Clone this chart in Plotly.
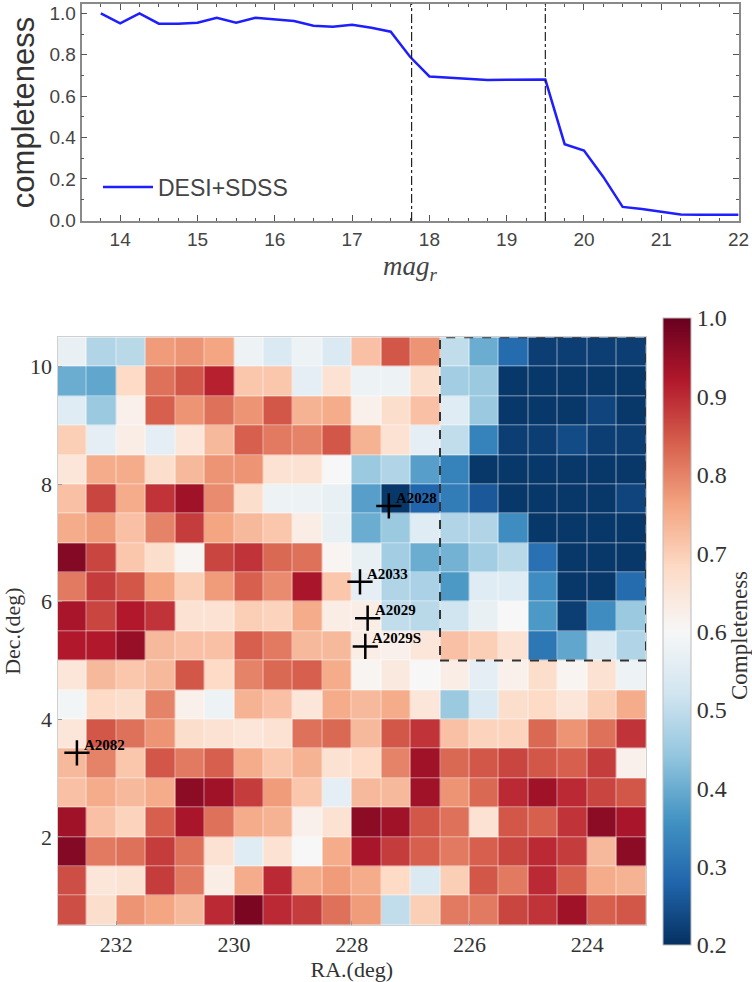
import plotly.graph_objects as go

# ---------------- top panel data ----------------
mag_r = [13.75, 14.0, 14.25, 14.5, 14.75, 15.0, 15.25, 15.5, 15.75, 16.0, 16.25, 16.5,
         16.75, 17.0, 17.25, 17.5, 17.75, 18.0, 18.25, 18.5, 18.75, 19.0, 19.25, 19.5,
         19.75, 20.0, 20.25, 20.5, 20.75, 21.0, 21.25, 21.5, 21.75, 22.0]
completeness = [1.0, 0.952, 1.0, 0.95, 0.95, 0.955, 0.979, 0.955, 0.978, 0.972, 0.963, 0.94,
                0.935, 0.945, 0.93, 0.911, 0.79, 0.695, 0.69, 0.683, 0.678, 0.679, 0.68, 0.68,
                0.368, 0.337, 0.21, 0.065, 0.055, 0.04, 0.028, 0.027, 0.027, 0.027]
mag_cuts = [17.77, 19.5]
mag_ticks = [14, 15, 16, 17, 18, 19, 20, 21, 22]

# ---------------- bottom panel data ----------------
ra_centers = [232.75, 232.25, 231.75, 231.25, 230.75, 230.25, 229.75, 229.25, 228.75, 228.25,
              227.75, 227.25, 226.75, 226.25, 225.75, 225.25, 224.75, 224.25, 223.75, 223.25]
dec_centers = [10.25, 9.75, 9.25, 8.75, 8.25, 7.75, 7.25, 6.75, 6.25, 5.75,
               5.25, 4.75, 4.25, 3.75, 3.25, 2.75, 2.25, 1.75, 1.25, 0.75]
grid = [
    [0.57, 0.48, 0.49, 0.77, 0.78, 0.76, 0.58, 0.54, 0.58, 0.54, 0.72, 0.85, 0.78, 0.50, 0.40, 0.29, 0.22, 0.22, 0.22, 0.22],
    [0.40, 0.39, 0.68, 0.82, 0.85, 0.91, 0.71, 0.71, 0.56, 0.66, 0.58, 0.58, 0.67, 0.46, 0.45, 0.21, 0.21, 0.21, 0.21, 0.21],
    [0.55, 0.45, 0.62, 0.84, 0.78, 0.82, 0.78, 0.85, 0.74, 0.75, 0.62, 0.67, 0.72, 0.55, 0.45, 0.21, 0.21, 0.21, 0.23, 0.21],
    [0.70, 0.56, 0.63, 0.56, 0.65, 0.73, 0.84, 0.81, 0.80, 0.85, 0.74, 0.66, 0.56, 0.50, 0.33, 0.22, 0.22, 0.24, 0.22, 0.22],
    [0.65, 0.75, 0.75, 0.67, 0.73, 0.78, 0.78, 0.66, 0.66, 0.60, 0.45, 0.48, 0.38, 0.33, 0.21, 0.21, 0.21, 0.21, 0.21, 0.21],
    [0.72, 0.87, 0.75, 0.89, 0.94, 0.79, 0.67, 0.58, 0.58, 0.57, 0.38, 0.21, 0.28, 0.32, 0.26, 0.21, 0.21, 0.21, 0.21, 0.23],
    [0.75, 0.77, 0.72, 0.80, 0.88, 0.76, 0.73, 0.71, 0.63, 0.57, 0.40, 0.45, 0.55, 0.48, 0.48, 0.35, 0.21, 0.21, 0.21, 0.21],
    [0.97, 0.87, 0.71, 0.67, 0.61, 0.87, 0.89, 0.83, 0.82, 0.61, 0.57, 0.46, 0.40, 0.41, 0.46, 0.49, 0.30, 0.21, 0.21, 0.21],
    [0.81, 0.88, 0.85, 0.76, 0.70, 0.77, 0.84, 0.79, 0.93, 0.71, 0.56, 0.48, 0.47, 0.37, 0.55, 0.55, 0.35, 0.21, 0.21, 0.29],
    [0.93, 0.87, 0.92, 0.89, 0.66, 0.66, 0.70, 0.69, 0.75, 0.63, 0.63, 0.50, 0.49, 0.52, 0.57, 0.60, 0.37, 0.22, 0.35, 0.45],
    [0.92, 0.92, 0.95, 0.73, 0.72, 0.72, 0.84, 0.81, 0.73, 0.73, 0.63, 0.62, 0.65, 0.72, 0.70, 0.66, 0.31, 0.39, 0.54, 0.48],
    [0.65, 0.73, 0.71, 0.73, 0.85, 0.68, 0.80, 0.83, 0.84, 0.75, 0.61, 0.64, 0.60, 0.63, 0.56, 0.62, 0.67, 0.61, 0.66, 0.58],
    [0.59, 0.68, 0.67, 0.80, 0.62, 0.58, 0.74, 0.72, 0.65, 0.75, 0.73, 0.75, 0.65, 0.45, 0.54, 0.67, 0.68, 0.65, 0.70, 0.75],
    [0.65, 0.85, 0.82, 0.78, 0.67, 0.66, 0.65, 0.66, 0.82, 0.83, 0.73, 0.85, 0.89, 0.72, 0.69, 0.69, 0.83, 0.78, 0.82, 0.89],
    [0.73, 0.80, 0.71, 0.85, 0.81, 0.84, 0.75, 0.71, 0.74, 0.66, 0.68, 0.80, 0.94, 0.83, 0.85, 0.87, 0.85, 0.84, 0.88, 0.62],
    [0.72, 0.75, 0.73, 0.75, 0.96, 0.94, 0.88, 0.77, 0.71, 0.56, 0.73, 0.73, 0.94, 0.78, 0.83, 0.90, 0.94, 0.90, 0.87, 0.85],
    [0.94, 0.72, 0.69, 0.84, 0.93, 0.82, 0.75, 0.74, 0.62, 0.66, 0.96, 0.94, 0.85, 0.82, 0.66, 0.85, 0.84, 0.89, 0.96, 0.93],
    [0.97, 0.81, 0.82, 0.88, 0.82, 0.66, 0.55, 0.66, 0.60, 0.75, 0.93, 0.88, 0.84, 0.81, 0.84, 0.87, 0.90, 0.88, 0.73, 0.96],
    [0.86, 0.65, 0.66, 0.88, 0.81, 0.63, 0.75, 0.90, 0.75, 0.77, 0.75, 0.68, 0.54, 0.70, 0.85, 0.81, 0.90, 0.84, 0.75, 0.74],
    [0.86, 0.67, 0.78, 0.76, 0.73, 0.90, 0.98, 0.90, 0.88, 0.82, 0.77, 0.50, 0.70, 0.81, 0.81, 0.87, 0.89, 0.94, 0.84, 0.85],
]
cluster_names = ["A2028", "A2033", "A2029", "A2029S", "A2082"]
cluster_ra = [227.37, 227.86, 227.73, 227.77, 232.67]
cluster_dec = [7.63, 6.34, 5.72, 5.24, 3.43]
box_ra = [226.5, 223.0]
box_dec = [5.0, 10.5]
ra_ticks = [232, 230, 228, 226, 224]
dec_ticks = [2, 4, 6, 8, 10]
cbar_ticks = [0.2, 0.3, 0.4, 0.5, 0.6, 0.7, 0.8, 0.9, 1.0]

rdbu_r = [[0.0, '#053061'], [0.1, '#2166ac'], [0.2, '#4393c3'], [0.3, '#92c5de'],
          [0.4, '#d1e5f0'], [0.5, '#f7f7f7'], [0.6, '#fddbc7'], [0.7, '#f4a582'],
          [0.8, '#d6604d'], [0.9, '#b2182b'], [1.0, '#67001f']]

SANS = "Liberation Sans, Arial, sans-serif"
SERIF = "Liberation Serif, Times New Roman, serif"
W, H = 752, 982

fig = go.Figure()

fig.add_trace(go.Scatter(
    x=mag_r, y=completeness, mode='lines', name='DESI+SDSS',
    line=dict(color='#1e1eff', width=2.5), xaxis='x', yaxis='y'))

for m in mag_cuts:
    fig.add_shape(type='line', xref='x', yref='y domain', x0=m, x1=m, y0=0, y1=1,
                  line=dict(color='#222', width=1.2, dash='dashdot'))

fig.add_trace(go.Heatmap(
    x=ra_centers, y=dec_centers, z=grid, xaxis='x2', yaxis='y2',
    colorscale=rdbu_r, zmin=0.2, zmax=1.0, showlegend=False, xgap=0.5, ygap=0.5,
    colorbar=dict(x=662.7 / W, xanchor='left', y=1 - 631.5 / H, yanchor='middle',
                  xpad=0, ypad=0,
                  len=627, lenmode='pixels', thickness=28, thicknessmode='pixels',
                  outlinewidth=1, outlinecolor='#bbb', ticks='', ticklen=0,
                  tickvals=cbar_ticks, tickformat='.1f', ticklabelposition='outside',
                  tickfont=dict(family=SERIF, size=24, color='#333'))))

fig.add_annotation(x=739 / W, y=1 - 636 / H, xref='paper', yref='paper',
                   text='Completeness', textangle=-90, showarrow=False,
                   xanchor='center', yanchor='middle',
                   font=dict(family=SERIF, size=23, color='#333'))

fig.add_trace(go.Scatter(
    x=cluster_ra, y=cluster_dec, mode='markers',
    marker=dict(symbol='cross-thin', size=18, color='black',
                line=dict(width=2.5, color='black')),
    xaxis='x2', yaxis='y2', showlegend=False, hoverinfo='skip'))

for name, ra, dec in zip(cluster_names, cluster_ra, cluster_dec):
    fig.add_annotation(x=ra, y=dec, xref='x2', yref='y2', text='<b>' + name + '</b>',
                       showarrow=False, xanchor='left', yanchor='middle', xshift=5, yshift=8,
                       font=dict(family=SERIF, size=15, color='black'))

fig.add_shape(type='rect', xref='x2', yref='y2', x0=box_ra[0], x1=box_ra[1],
              y0=box_dec[0], y1=box_dec[1], line=dict(color='#333', width=2, dash='dash'))

top_axis_common = dict(showgrid=False, zeroline=False, showline=True, linecolor='#8a8a8a',
                       linewidth=1.5, mirror='allticks', ticks='inside', ticklen=6,
                       tickcolor='#555', tickwidth=1.2,
                       tickfont=dict(family=SANS, size=19, color='#444'))

fig.update_layout(
    width=W, height=H, margin=dict(l=0, r=0, t=0, b=0, autoexpand=False),
    paper_bgcolor='white', plot_bgcolor='white',
    showlegend=True,
    legend=dict(x=98 / W, y=1 - 187 / H, xanchor='left', yanchor='middle', itemwidth=50,
                bgcolor='rgba(0,0,0,0)', font=dict(family=SANS, size=23, color='#444')),
    xaxis=dict(domain=[81.5 / W, 738.6 / W], anchor='y', range=[13.5, 22],
               tickvals=mag_ticks,
               minor=dict(dtick=0.25, ticks='inside', ticklen=3, tickcolor='#555'),
               title=dict(text='<i>mag</i><sub><i>r</i></sub>', standoff=8,
                          font=dict(family=SERIF, size=27, color='#444')),
               **top_axis_common),
    yaxis=dict(domain=[1 - 221 / H, 1 - 4 / H], anchor='x', range=[-0.003, 1.045],
               dtick=0.2, tickformat='.1f',
               minor=dict(dtick=0.1, ticks='inside', ticklen=3, tickcolor='#555'),
               title=dict(text='completeness', standoff=6,
                          font=dict(family=SANS, size=31, color='#333')),
               **top_axis_common),
    xaxis2=dict(domain=[57.5 / W, 646 / W], anchor='y2', range=[233, 223],
                tickvals=ra_ticks, showgrid=False, zeroline=False, showline=True,
                linecolor='#d0d0d0', linewidth=1, mirror=True, ticks='inside', ticklen=4,
                tickcolor='#999', tickfont=dict(family=SERIF, size=22, color='#333'),
                title=dict(text='RA.(deg)', standoff=4,
                           font=dict(family=SERIF, size=22, color='#333'))),
    yaxis2=dict(domain=[1 - 925 / H, 1 - 337.3 / H], anchor='x2', range=[0.5, 10.5],
                tickvals=dec_ticks, showgrid=False, zeroline=False, showline=True,
                linecolor='#d0d0d0', linewidth=1, mirror=True, ticks='inside', ticklen=4,
                tickcolor='#999', tickfont=dict(family=SERIF, size=22, color='#333'),
                title=dict(text='Dec.(deg)', standoff=4,
                           font=dict(family=SERIF, size=22, color='#333'))),
)

fig.write_html("out.html")
